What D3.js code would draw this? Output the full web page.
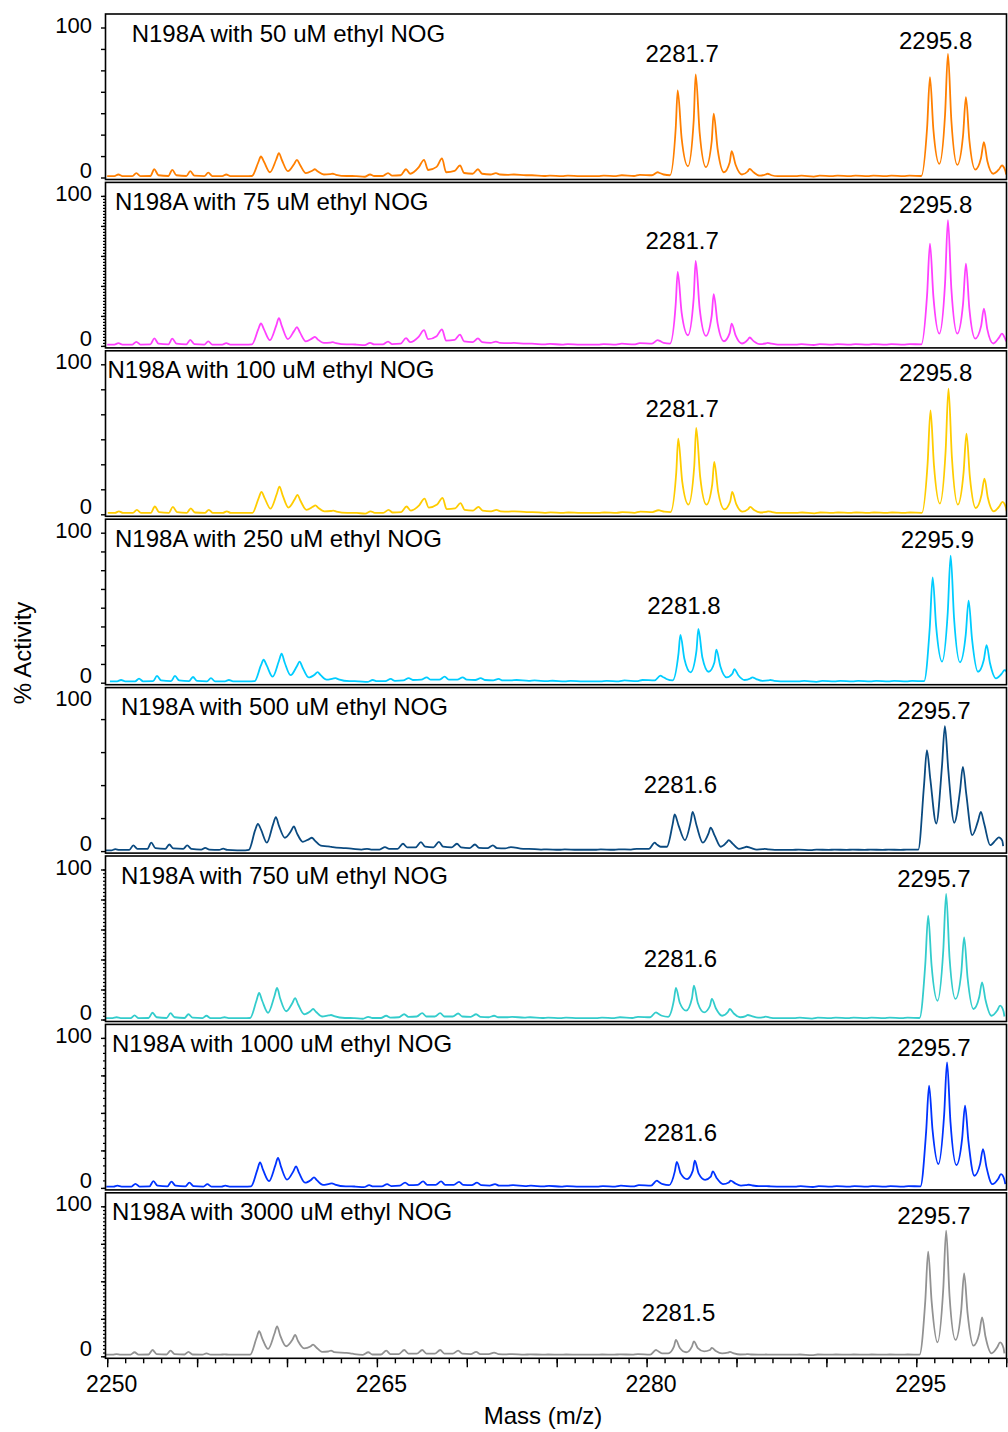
<!DOCTYPE html>
<html>
<head>
<meta charset="utf-8">
<script src="https://cdn.jsdelivr.net/npm/d3@7"></script>
<style>
  body { margin: 0; background: #fff; }
  text { font-family: "Liberation Sans", Arial, sans-serif; fill: #000; }
</style>
</head>
<body>
<script>
const mz = [
  // 2250-2258 noise
  2250, 2250.4, 2250.62, 2250.85, 2251.4, 2251.62, 2251.85, 2252.4, 2252.62, 2252.85,
  2253.4, 2253.62, 2253.85, 2254.4, 2254.62, 2254.85, 2255.4, 2255.62, 2255.85,
  2256.4, 2256.62, 2256.85, 2257.4, 2257.62, 2257.85,
  // 2258-2263 small cluster
  2258.05, 2258.4, 2258.55, 2258.72, 2259.05, 2259.4, 2259.55, 2259.72,
  2260.05, 2260.4, 2260.55, 2260.72, 2261.05, 2261.4, 2261.55, 2261.72,
  2262.05, 2262.4, 2262.55, 2262.72,
  // 2263-2272
  2263.32, 2263.62, 2263.85, 2264.32, 2264.62, 2264.85, 2265.32, 2265.62, 2265.85,
  2266.32, 2266.62, 2266.85, 2267.32, 2267.62, 2267.85, 2268.32, 2268.62, 2268.85,
  2269.32, 2269.62, 2269.85, 2270.32, 2270.62, 2270.85, 2271.32, 2271.62, 2271.85,
  // 2272-2280
  2272.3, 2272.62, 2273.3, 2273.62, 2274.3, 2274.62, 2275.3, 2275.62,
  2276.3, 2276.62, 2277.3, 2277.62, 2278.3, 2278.62, 2279.3, 2279.62,
  // 2280-2287 cluster
  2280.3, 2280.62, 2280.73, 2280.95, 2281.3, 2281.62, 2281.73, 2281.95,
  2282.3, 2282.62, 2282.73, 2282.95, 2283.3, 2283.62, 2283.73, 2283.95,
  2284.3, 2284.62, 2284.73, 2284.95, 2285.3, 2285.62, 2285.73, 2285.95,
  2286.3, 2286.62, 2286.73, 2286.95, 2287.3,
  // 2288-2295
  2288.3, 2288.62, 2289.3, 2289.62, 2290.3, 2290.62, 2291.3, 2291.62,
  2292.3, 2292.62, 2293.3, 2293.62, 2294.3, 2294.62,
  // 2295-2300 cluster
  2295.28, 2295.6, 2295.76, 2295.95, 2296.28, 2296.6, 2296.76, 2296.95,
  2297.28, 2297.6, 2297.76, 2297.95, 2298.28, 2298.6, 2298.76, 2298.95,
  2299.28, 2299.6, 2299.76, 2299.95, 2300
];

const titles = [
  "N198A with 50 uM ethyl NOG", "N198A with 75 uM ethyl NOG",
  "N198A with 100 uM ethyl NOG", "N198A with 250 uM ethyl NOG",
  "N198A with 500 uM ethyl NOG", "N198A with 750 uM ethyl NOG",
  "N198A with 1000 uM ethyl NOG", "N198A with 3000 uM ethyl NOG"
];
const colors = ["#ff7f00", "#ff40ff", "#ffcc00", "#00ccff", "#0a4a80", "#33cccc", "#0033ff", "#929292"];

// calibration shift of each spectrum (m/z)
const mzShift = [0, 0, 0.03, 0.15, -0.17, -0.1, -0.05, -0.1];

// % activity, one value per mz point
const act50 = [
  0.9, 0.9, 2, 0.9, 0.9, 2.9, 0.9, 1, 5.5, 1.5, 1, 5.1, 1.5, 1, 4.2, 1.2, 0.9, 3.2, 0.9, 0.9, 2, 0.9, 0.9, 0.9, 0.9,
  1, 10, 14, 10.5, 3.5, 12, 16.2, 11.5, 4.2, 9, 11.8, 8.5, 2.9, 4.5, 5.5, 4, 2, 2.2, 2.5, 1.8,
  1, 1, 0.9, 0.5, 2, 1, 1, 2.9, 1.2, 1.5, 5.5, 2.5, 6.7, 11.8, 5, 7.1, 12.7, 3.5, 4.4, 8, 3, 2.5, 5.5, 2.5, 2, 2.9, 2,
  1.8, 2, 1.5, 1.5, 1, 1.3, 0.9, 1.2, 0.9, 0.9, 0.9, 1.2, 0.9, 1.5, 1, 1.8,
  1.5, 3.5, 3, 2, 1.5, 33, 58, 26, 7.5, 38, 68.7, 30, 6.9, 24, 42.5, 19, 3.5, 10, 17.5, 8.5, 2, 4, 5.8, 3.5, 1.2, 2, 2.5, 1.5, 0.9,
  0.9, 1.2, 0.6, 1.2, 0.9, 1.2, 0.9, 1.2, 0.9, 1.2, 0.9, 1.2, 0.9, 1.2,
  1, 33, 66.9, 32, 9.1, 42, 82.4, 38, 8.4, 28, 53.5, 25, 5.3, 13, 23.5, 11, 2.5, 5.5, 8, 4.5, 2
];
const act75 = [
  0.9, 0.9, 1.8, 0.9, 0.9, 2.7, 0.9, 1, 5, 1.5, 1, 4.8, 1.5, 1, 4, 1.2, 0.9, 3, 0.9, 0.9, 1.8, 0.9, 0.9, 0.9, 0.9,
  1, 11, 15, 11, 3.8, 13.5, 18.5, 13, 4.5, 10, 12.5, 9, 3, 5, 6, 4.2, 2, 2.2, 2.5, 1.8,
  1, 1, 0.9, 0.5, 2, 1, 1, 2.9, 1.2, 1.5, 5.2, 2.5, 6, 10.5, 4.5, 6.5, 11, 3.5, 4, 7.5, 3, 2.5, 5, 2.5, 2, 2.9, 2,
  1.8, 2, 1.5, 1.5, 1, 1.3, 0.9, 1.2, 0.9, 0.9, 0.9, 1.2, 0.9, 1.5, 1, 1.8,
  1.5, 3.8, 3.3, 2, 1.5, 28, 49.3, 22, 7.1, 32, 56.7, 25, 6.7, 20, 34.5, 15, 3.1, 8.5, 14.9, 7, 1.6, 4, 5.6, 3.2, 1.2, 1.6, 2, 1.5, 0.9,
  0.9, 1.2, 0.6, 1.2, 0.9, 1.2, 0.9, 1.2, 0.9, 1.2, 0.9, 1.2, 0.9, 1.2,
  1, 34, 68.2, 33, 8.2, 42, 83.8, 38, 8.2, 28, 54.9, 25, 4.9, 13, 24.9, 11, 1.6, 5.5, 8.2, 4.5, 3
];
const act100 = [
  0.9, 0.9, 2, 0.9, 0.9, 2.9, 0.9, 1, 5.2, 1.5, 1, 5, 1.5, 1, 4, 1.2, 0.9, 3, 0.9, 0.9, 2, 0.9, 0.9, 0.9, 0.9,
  1, 11, 15, 11, 3.8, 13.5, 18.5, 13, 4.5, 10, 13, 9, 3, 5, 6, 4.2, 2, 2.2, 2.5, 1.8,
  1, 1, 0.9, 0.5, 2, 1, 1, 2.9, 1.2, 1.5, 5.2, 2.5, 6, 10.5, 4.5, 6.5, 11, 3.5, 4, 7.5, 3, 2.5, 5, 2.5, 2, 2.9, 2,
  1.8, 2, 1.5, 1.5, 1, 1.3, 0.9, 1.2, 0.9, 0.9, 0.9, 1.2, 0.9, 1.5, 1, 1.8,
  1.5, 2.7, 2.5, 1.8, 1.5, 28, 50.5, 22, 6.5, 32, 57.6, 25, 6.5, 20, 34.9, 15, 3.3, 8.5, 14.9, 7, 1.8, 3.5, 4.9, 2.8, 1.2, 1.6, 2, 1.5, 0.9,
  0.9, 1.2, 0.6, 1.2, 0.9, 1.2, 0.9, 1.2, 0.9, 1.2, 0.9, 1.2, 0.9, 1.2,
  1, 34, 69.3, 33, 7.1, 42, 83.8, 38, 6.5, 28, 53.8, 25, 4.2, 13, 23.8, 11, 2, 5.5, 8.3, 4.5, 2
];
const act250 = [
  0.9, 0.9, 1.8, 0.9, 0.9, 2.7, 0.9, 1, 4.5, 1.5, 1, 4.5, 1.5, 1, 3.8, 1.2, 0.9, 3, 0.9, 0.9, 1.8, 0.9, 0.9, 0.9, 0.9,
  1, 11.5, 15.3, 11.5, 4, 14.5, 19.3, 13.5, 5, 11, 14, 10, 3.5, 5.5, 7, 5, 2, 2.7, 3, 2.2,
  1, 1, 0.9, 0.5, 1.8, 1, 1, 2.5, 1.2, 1.5, 3, 1.8, 2, 3.5, 2, 2, 4, 2, 2, 3.5, 2, 1.8, 3, 1.8, 1.5, 2.5, 1.5,
  1.5, 1.8, 1.2, 1.5, 1, 1.3, 0.9, 1.2, 0.9, 0.9, 0.9, 1.2, 0.9, 1.5, 1, 1.8,
  1.5, 4.7, 4, 2.5, 1.5, 19, 31.8, 16, 6.9, 21, 35.8, 17, 7.3, 13.5, 22, 11, 3.6, 6, 9.1, 5, 1.8, 2.8, 3.6, 2.4, 1.2, 1.5, 1.8, 1.2, 0.9,
  0.9, 1.2, 0.6, 1.2, 0.9, 1.2, 0.9, 1.2, 0.9, 1.2, 0.9, 1.2, 0.9, 1.2,
  1, 37, 70.2, 38, 14, 47, 84.7, 43, 13.6, 32, 54.7, 29, 7.3, 15, 25.1, 13, 2.9, 6, 8.4, 5.5, 3
];
const act500 = [
  0.5, 0.5, 1.3, 0.8, 0.8, 3.8, 1.5, 1.5, 5.6, 2, 1.5, 4.4, 1.8, 1.5, 3.8, 1.5, 1, 2.2, 1, 0.8, 1.6, 0.8, 0.5, 0.5, 0.5,
  0.8, 14, 18.2, 14.5, 5.6, 18, 22.7, 17, 8.9, 13.5, 16.4, 12, 6.2, 8, 8.9, 7, 3.6, 3.2, 3, 2.6,
  2, 1.8, 1.5, 1, 1.5, 1, 1, 2.7, 1.5, 1.5, 4.9, 2.5, 2.5, 6, 3, 2.5, 6.2, 3, 2.5, 4.9, 2.5, 2, 4.4, 2.2, 2, 3.8, 2,
  1.8, 2.7, 1.5, 1.5, 1, 1.2, 0.9, 1.2, 0.9, 0.9, 0.9, 1.2, 0.9, 1.2, 1, 1.5,
  1.5, 5.6, 4.5, 2.9, 2.9, 18, 24.4, 17, 7.3, 19.5, 26.2, 17, 5.6, 12, 15.6, 10.5, 2.9, 5.8, 7.3, 5, 1.5, 2.5, 2.9, 2.2, 1, 1.3, 1.5, 1.1, 0.8,
  0.8, 1, 0.6, 1, 0.8, 1, 0.8, 1, 0.8, 1, 0.8, 1, 0.8, 1,
  1, 44, 67.3, 48, 18.4, 57, 83.3, 54, 18.9, 40, 56.2, 38, 10.7, 20, 26.2, 18, 4, 7.5, 9.1, 7, 3.3
];
const act750 = [
  0.9, 0.9, 1.5, 0.9, 0.9, 2.7, 0.9, 1, 4.5, 1.5, 1, 4.2, 1.5, 1, 3.5, 1.2, 0.9, 2.5, 0.9, 0.9, 1.5, 0.9, 0.9, 0.9, 0.9,
  1, 12.5, 17.7, 12.5, 4.5, 15.5, 21, 14, 5.5, 11, 14.3, 10, 3.5, 5.5, 7, 5, 2, 2.7, 3, 2.2,
  1, 1, 0.9, 0.5, 1.8, 1, 1, 2.5, 1.2, 1.5, 3.5, 1.8, 2, 4.3, 2, 2, 4.3, 2, 2, 4, 2, 1.8, 3.5, 1.8, 1.5, 2.5, 1.5,
  1.5, 1.8, 1.2, 1.5, 1, 1.3, 0.9, 1.2, 0.9, 0.9, 0.9, 1.2, 0.9, 1.5, 1, 1.8,
  1.5, 4.8, 4, 2.5, 1.8, 13, 21, 11, 5.9, 14, 22.5, 11, 4.8, 9, 13.7, 7.5, 2.5, 5, 7, 4, 1.5, 2.3, 3, 2.2, 1.2, 1.6, 1.9, 1.3, 0.9,
  0.9, 1.2, 0.6, 1.2, 0.9, 1.2, 0.9, 1.2, 0.9, 1.2, 0.9, 1.2, 0.9, 1.2,
  1, 37, 69.2, 36, 12.5, 46, 83.7, 41, 13.7, 31, 54.8, 28, 7, 15, 24.8, 13, 2.5, 6, 9.2, 5.5, 2
];
const act1000 = [
  0.9, 0.9, 1.5, 0.9, 0.9, 2.7, 0.9, 1, 4.5, 1.5, 1, 4.2, 1.5, 1, 3.5, 1.2, 0.9, 2.5, 0.9, 0.9, 1.5, 0.9, 0.9, 0.9, 0.9,
  1, 12, 17, 12, 4.5, 15, 20, 14, 5.5, 11, 14.3, 10, 3.5, 5.5, 7, 5, 2, 2.7, 3, 2.2,
  1, 1, 0.9, 0.5, 1.8, 1, 1, 2.5, 1.2, 1.5, 3.5, 1.8, 2, 4.3, 2, 2, 4.3, 2, 2, 4, 2, 1.8, 3.5, 1.8, 1.5, 2.5, 1.5,
  1.5, 1.8, 1.2, 1.5, 1, 1.3, 0.9, 1.2, 0.9, 0.9, 0.9, 1.2, 0.9, 1.5, 1, 1.8,
  1.5, 4.8, 4, 2.5, 1.8, 11, 17.4, 9.5, 5.9, 11.5, 18.1, 9.5, 5.4, 7.5, 11, 6.5, 2.5, 3.6, 4.8, 3.2, 1.5, 1.9, 2.1, 1.6, 1.2, 1.2, 1.2, 1, 0.9,
  0.9, 1.2, 0.6, 1.2, 0.9, 1.2, 0.9, 1.2, 0.9, 1.2, 0.9, 1.2, 0.9, 1.2,
  1, 38, 68.1, 39, 15.9, 49, 83.7, 44, 15.2, 33, 54.8, 31, 8.1, 16, 25.9, 14, 2.5, 6, 9.2, 5.5, 2.5
];
const act3000 = [
  1.1, 1.1, 1.5, 1.1, 1.1, 2.7, 1.1, 1.2, 4.2, 1.5, 1.2, 3.8, 1.5, 1.2, 2.9, 1.2, 1.1, 2, 1.1, 1.1, 1.3, 1.1, 1.1, 1.1, 1.1,
  1.1, 12, 16.7, 12, 4.9, 15, 20, 14, 6.7, 11, 14.3, 10, 5.3, 6.5, 7.8, 6, 3, 3.2, 3.8, 2.8,
  2.3, 2, 1.5, 1, 2.7, 1.2, 1.2, 3.8, 1.5, 1.5, 4.2, 1.8, 1.8, 4.2, 1.8, 1.8, 4.2, 1.8, 1.8, 3.8, 1.8, 1.5, 2.9, 1.5, 1.5, 2.5, 1.5,
  1.3, 1.5, 1.1, 1.3, 1.1, 1.2, 1.1, 1.2, 1.1, 1.1, 1.1, 1.2, 1.1, 1.3, 1.1, 1.5,
  1.1, 4.2, 3.5, 2, 2, 6.5, 10.9, 5.5, 2.7, 6.5, 10, 5.5, 3.3, 4.2, 5.6, 3.6, 2, 2.4, 2.9, 2, 1.2, 1.3, 1.5, 1.2, 1.1, 1.1, 1.2, 1.1, 1.1,
  1.1, 1.2, 0.8, 1.2, 1.1, 1.2, 1.1, 1.2, 1.1, 1.2, 1.1, 1.2, 1.1, 1.2,
  1.1, 37, 69.8, 37, 9.3, 45, 83.8, 40, 10.9, 31, 55.3, 29, 7.1, 15, 26, 13, 2, 6, 9.3, 5.5, 2
];
const traces = [act50, act75, act100, act250, act500, act750, act1000, act3000];

// peak annotations: text and the height (in %) of the text baseline
const peakLabelsA = ["2281.7", "2281.7", "2281.7", "2281.8", "2281.6", "2281.6", "2281.6", "2281.5"];
const peakLabelsAy = [76.9, 64.3, 64.9, 45.8, 38.5, 35.2, 31.5, 23.8];
const peakLabelsB = ["2295.8", "2295.8", "2295.8", "2295.9", "2295.7", "2295.7", "2295.7", "2295.7"];
const peakLabelsBy = [85.8, 88.3, 88.7, 89.5, 88, 88.1, 88.1, 88.3];

// y tick spacing (%) of each panel: major and minor (0 = none)
const yMajorStep = [100 / 7, 20, 100 / 6, 12.5, 22, 20, 25, 25];
const yMinorStep = [0, 2, 0, 0, 0, 2.5, 5, 2.5];

const xTickLabels = [2250, 2265, 2280, 2295];

traces.forEach((t, i) => {
  if (t.length !== mz.length) console.error("trace " + i + " has " + t.length + " values, expected " + mz.length);
});

// layout
const W = 1008, H = 1432;
const left = 105.5, right = 1006.5;
const top0 = 14, step = 168.4, panelH = 165.5;

const svg = d3.select("body").append("svg")
  .attr("width", W)
  .attr("height", H);

const x = d3.scaleLinear().domain([2250, 2300]).range([107.2, 1006.2]);

traces.forEach((vals, i) => {
  const top = top0 + i * step;
  const bottom = top + panelH;
  const zero = bottom - 2;
  const y = d3.scaleLinear().domain([0, 100]).range([zero, zero - 150]);

  const g = svg.append("g");

  g.append("clipPath").attr("id", "clip" + i)
    .append("rect")
    .attr("x", left).attr("y", top)
    .attr("width", right - left).attr("height", panelH);

  const line = d3.line()
    .x(d => x(d[0] + mzShift[i]))
    .y(d => y(d[1]))
    .curve(d3.curveMonotoneX);

  g.append("path")
    .datum(mz.map((m, k) => [m, vals[k]]))
    .attr("clip-path", "url(#clip" + i + ")")
    .attr("fill", "none")
    .attr("stroke", colors[i])
    .attr("stroke-width", 1.8)
    .attr("stroke-linejoin", "round")
    .attr("d", line);

  // frame
  g.append("rect")
    .attr("x", left).attr("y", top)
    .attr("width", right - left).attr("height", panelH)
    .attr("fill", "none")
    .attr("stroke", "#000")
    .attr("stroke-width", 1.6);

  // y ticks
  if (yMinorStep[i] > 0) {
    g.append("g")
      .attr("transform", `translate(${left},0)`)
      .call(d3.axisLeft(y).tickValues(d3.range(0, 100.001, yMinorStep[i])).tickSize(2.5).tickFormat(""))
      .call(a => a.select(".domain").remove())
      .call(a => a.selectAll("line").attr("stroke-width", 1.2));
  }
  g.append("g")
    .attr("transform", `translate(${left},0)`)
    .call(d3.axisLeft(y).tickValues(d3.range(0, 100.001, yMajorStep[i])).tickSize(4.5).tickFormat(""))
    .call(a => a.select(".domain").remove())
    .call(a => a.selectAll("line").attr("stroke-width", 1.4));

  g.append("text")
    .attr("x", 92).attr("y", y(100) + 5)
    .attr("text-anchor", "end")
    .attr("font-size", 22)
    .text("100");
  g.append("text")
    .attr("x", 92).attr("y", y(0))
    .attr("text-anchor", "end")
    .attr("font-size", 22)
    .text("0");

  // title
  g.append("text")
    .attr("x", [131.7, 115, 107.5, 115, 121, 121, 112, 112][i])
    .attr("y", top + 27.5)
    .attr("font-size", 24)
    .text(titles[i]);

  // peak labels
  g.append("text")
    .attr("x", x(+peakLabelsA[i]) + 5)
    .attr("y", y(peakLabelsAy[i]))
    .attr("text-anchor", "middle")
    .attr("font-size", 24)
    .text(peakLabelsA[i]);
  g.append("text")
    .attr("x", x(+peakLabelsB[i]) + 5)
    .attr("y", y(peakLabelsBy[i]))
    .attr("text-anchor", "middle")
    .attr("font-size", 24)
    .text(peakLabelsB[i]);
});

// bottom m/z axis
const axisY = top0 + 7 * step + panelH;
const xg = svg.append("g").attr("transform", `translate(0,${axisY})`);
xg.append("g")
  .call(d3.axisBottom(x).tickValues(d3.range(2250, 2301, 1)).tickSize(5).tickFormat(""))
  .call(a => a.select(".domain").remove())
  .call(a => a.selectAll("line").attr("stroke-width", 1.4));
xg.append("g")
  .call(d3.axisBottom(x).tickValues(d3.range(2250, 2301, 5)).tickSize(9).tickFormat(""))
  .call(a => a.select(".domain").remove())
  .call(a => a.selectAll("line").attr("stroke-width", 1.4));
xg.selectAll("text.xl")
  .data(xTickLabels)
  .join("text")
  .attr("class", "xl")
  .attr("x", d => x(d) + 4.5)
  .attr("y", 34)
  .attr("text-anchor", "middle")
  .attr("font-size", 23)
  .text(d => d);

svg.append("text")
  .attr("x", 543).attr("y", 1424)
  .attr("text-anchor", "middle")
  .attr("font-size", 24)
  .text("Mass (m/z)");

svg.append("text")
  .attr("transform", "translate(31,653) rotate(-90)")
  .attr("text-anchor", "middle")
  .attr("font-size", 24)
  .text("% Activity");
</script>
</body>
</html>
